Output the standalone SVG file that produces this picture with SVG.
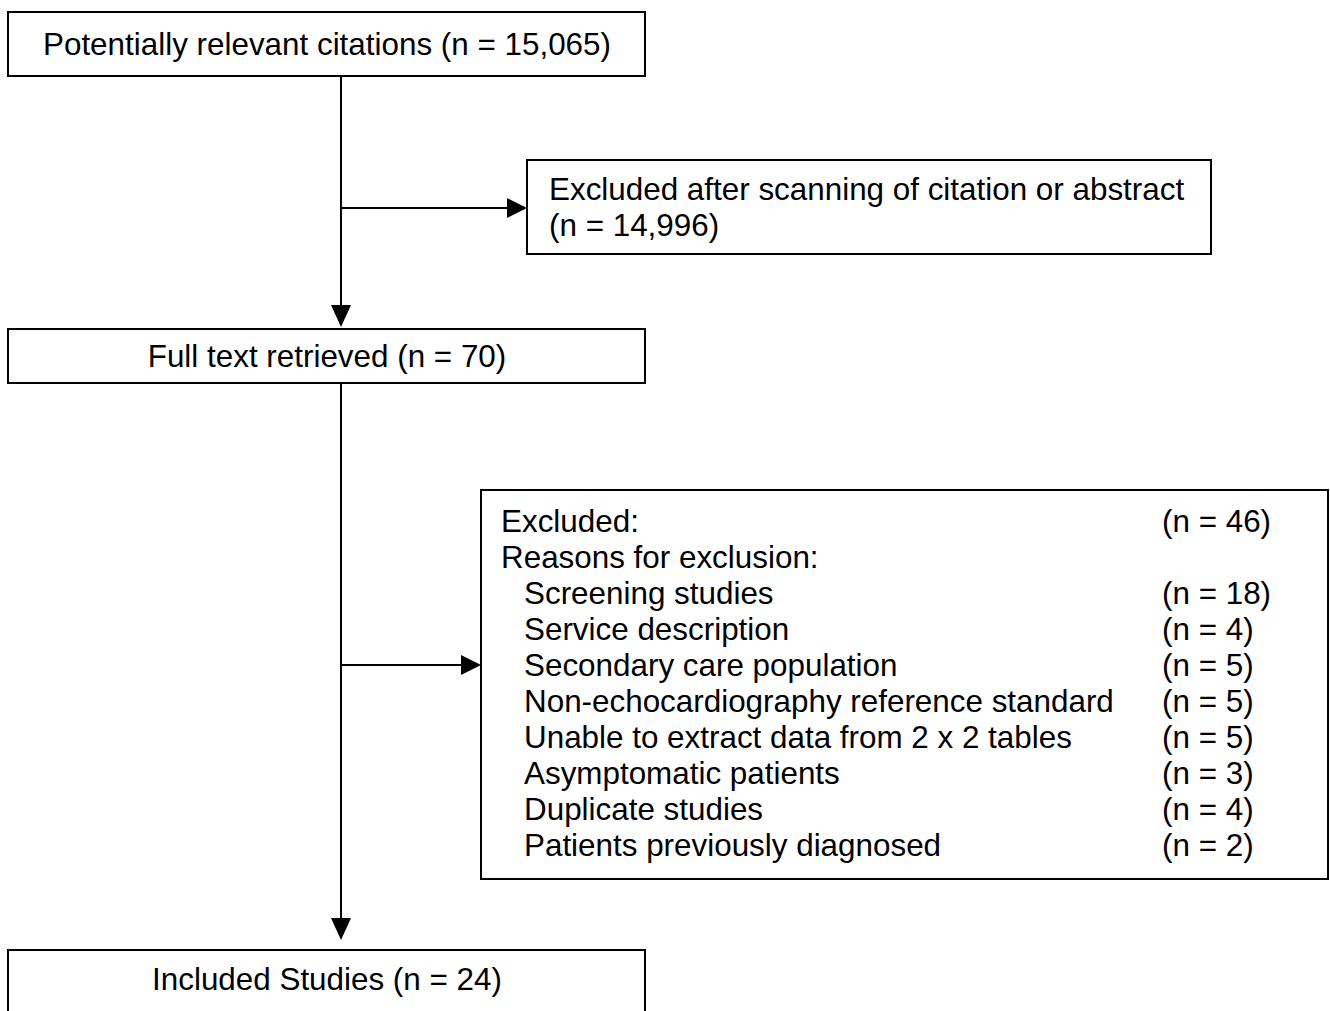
<svg xmlns="http://www.w3.org/2000/svg" width="1330" height="1011" viewBox="0 0 1330 1011">
<style>
.box{fill:#fff;stroke:#000;stroke-width:2}
.t{font-family:"Liberation Sans",Arial,sans-serif;font-size:31.4px;fill:#000}
.c{text-anchor:middle}
.ln{stroke:#000;stroke-width:2;fill:none}
</style>
<rect width="1330" height="1011" fill="#fff"/>
<g id="connectors">
<line class="ln" x1="341" y1="76" x2="341" y2="305"/>
<path d="M331,305 L351,305 L341,327 Z" fill="#000"/>
<line class="ln" x1="341" y1="208" x2="507" y2="208"/>
<path d="M507,198 L507,218 L527,208 Z" fill="#000"/>
<line class="ln" x1="341" y1="383" x2="341" y2="918"/>
<path d="M331,918 L351,918 L341,940 Z" fill="#000"/>
<line class="ln" x1="341" y1="665" x2="461" y2="665"/>
<path d="M461,655 L461,675 L481,665 Z" fill="#000"/>
</g>
<g id="n1">
<rect class="box" x="8" y="12" width="637" height="64"/>
<text class="t c" x="327" y="55">Potentially relevant citations (n = 15,065)</text>
</g>
<g id="n2">
<rect class="box" x="527" y="160" width="684" height="94"/>
<text class="t" x="549" y="200">Excluded after scanning of citation or abstract</text>
<text class="t" x="549" y="236">(n = 14,996)</text>
</g>
<g id="n3">
<rect class="box" x="8" y="329" width="637" height="54"/>
<text class="t c" x="327" y="367">Full text retrieved (n = 70)</text>
</g>
<g id="n4">
<rect class="box" x="481" y="490" width="847" height="389"/>
<text class="t" x="501" y="532">Excluded:</text>
<text class="t" x="1162" y="532">(n = 46)</text>
<text class="t" x="501" y="568">Reasons for exclusion:</text>
<text class="t" x="524" y="604">Screening studies</text>
<text class="t" x="1162" y="604">(n = 18)</text>
<text class="t" x="524" y="640">Service description</text>
<text class="t" x="1162" y="640">(n = 4)</text>
<text class="t" x="524" y="676">Secondary care population</text>
<text class="t" x="1162" y="676">(n = 5)</text>
<text class="t" x="524" y="712">Non-echocardiography reference standard</text>
<text class="t" x="1162" y="712">(n = 5)</text>
<text class="t" x="524" y="748">Unable to extract data from 2 x 2 tables</text>
<text class="t" x="1162" y="748">(n = 5)</text>
<text class="t" x="524" y="784">Asymptomatic patients</text>
<text class="t" x="1162" y="784">(n = 3)</text>
<text class="t" x="524" y="820">Duplicate studies</text>
<text class="t" x="1162" y="820">(n = 4)</text>
<text class="t" x="524" y="856">Patients previously diagnosed</text>
<text class="t" x="1162" y="856">(n = 2)</text>
</g>
<g id="n5">
<rect class="box" x="8" y="950" width="637" height="80"/>
<text class="t c" x="327" y="990">Included Studies (n = 24)</text>
</g>
</svg>
